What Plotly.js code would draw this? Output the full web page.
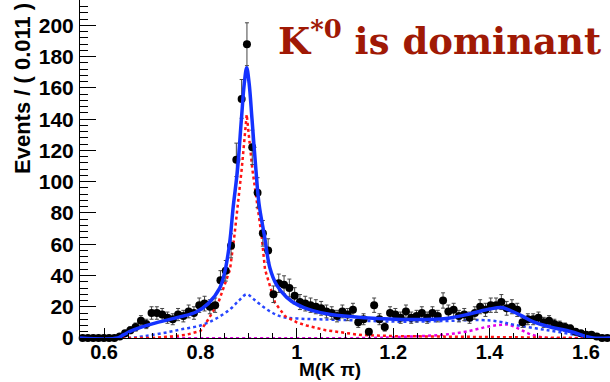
<!DOCTYPE html>
<html>
<head>
<meta charset="utf-8">
<script src="https://cdn.plot.ly/plotly-3.0.1.min.js"></script>
<style>html,body{margin:0;padding:0;background:#fff;}#chart{width:610px;height:382px;}</style>
</head>
<body>
<div id="chart"></div>
<script>
// Histogram binning (100 bins of 0.011 GeV from 0.55)
const binStart = 0.55;
const binWidth = 0.011;

// Event counts per bin
const counts = [0,0,0,0,0,0,0,1,3,5, 7,11,9,16,16,15,13,12,15,14,
  17,16,21,22,20,21,37,43,59,114, 153,188,122,93,67,56,28,35,34,32,
  27,23,22,21,20,19,17,16,14,17, 15,18,10,12,4,21,12,7,16,15,
  13,17,13,14,16,13,16,14,24,17, 18,14,15,13,16,20,18,21,21,23,
  19,20,18,10,12,12,13,10,11,9, 8,7,6,4,3,2,2,1,0,0];

// Statistical errors per bin
const errors = [0,0,0,0,0,0,0,1,1.7,2.2, 2.6,3.3,3,4,4,3.9,3.6,3.5,3.9,3.7,
  4.1,4,4.6,4.7,4.5,4.6,6.1,6.6,7.7,10.7, 12.4,13.7,11,9.6,8.2,7.5,5.3,5.9,5.8,5.7,
  5.2,4.8,4.7,4.6,4.5,4.4,4.1,4,3.7,4.1, 3.9,4.2,3.2,3.5,2,4.6,3.5,2.6,4,3.9,
  3.6,4.1,3.6,3.7,4,3.6,4,3.7,4.9,4.1, 4.2,3.7,3.9,3.6,4,4.5,4.2,4.6,4.6,4.8,
  4.4,4.5,4.2,3.2,3.5,3.5,3.6,3.2,3.3,3, 2.8,2.6,2.4,2,1.7,1.4,1.4,1,0,0];

// Total fit (blue solid)
const totalX = [0.55,0.628,0.64,0.66,0.70,0.757,0.79,0.816,0.84,0.851,0.861,0.868,0.877,0.885,0.891,0.896,0.901,0.907,0.915,0.9215,0.933,0.944,0.958,0.979,1.0,1.033,1.07,1.14,1.24,1.31,1.36,1.40,1.425,1.44,1.465,1.49,1.52,1.57,1.60,1.615,1.65];
const totalY = [0,0,2,5,9,13.5,16.5,22,32,43,62,84,108,140,163,173,163,140,108,86,65,45,34,26,21.5,17.5,15,13,11.8,12.5,15.5,18.5,19.5,18,14.5,10.5,7.5,4,1,0,0];

// K*0 component (red dotted)
const kstX = [0.55,0.70,0.74,0.77,0.80,0.816,0.837,0.8613,0.8703,0.8856,0.896,0.9077,0.9271,0.934,0.9548,0.9755,1.0,1.02,1.06,1.1,1.13,1.2,1.3,1.45,1.55,1.6,1.65];
const kstY = [0,0,1,2,4.5,11.8,22.5,43.8,65,108,143,108,65,43.8,22.5,14,10,8,5,3.5,2,1.2,0.8,0.5,0.2,0,0];

// Broad component (blue dotted)
const broadX = [0.55,0.65,0.68,0.72,0.76,0.80,0.83,0.86,0.88,0.896,0.91,0.93,0.95,0.97,1.0,1.1,1.2,1.3,1.38,1.42,1.45,1.52,1.59,1.62,1.65];
const broadY = [0,0,1,3,5.5,8,12,18,24,28,25,20,16,13.5,12.5,11.5,10.5,10.8,11.5,10.5,8.5,5,1.5,0,0];

// K2*(1430) component (magenta dotted)
const k2X = [0.55,1.15,1.2,1.3,1.35,1.4,1.425,1.44,1.46,1.48,1.5,1.52,1.65];
const k2Y = [0,0,0.5,2,4,7.5,8.5,8.5,6,3,1,0,0];

const binCenters = counts.map((_, i) => binStart + binWidth * (i + 0.5));

const traces = [
  {x: k2X, y: k2Y, type: 'scatter', mode: 'lines', cliponaxis: false, line: {color: 'rgb(230,0,230)', width: 2.5, dash: 'dot', shape: 'spline'}, hoverinfo: 'skip'},
  {x: broadX, y: broadY, type: 'scatter', mode: 'lines', line: {color: 'rgb(40,70,255)', width: 2.5, dash: 'dot', shape: 'spline'}, hoverinfo: 'skip'},
  {x: kstX, y: kstY, type: 'scatter', mode: 'lines', line: {color: 'rgb(255,20,20)', width: 2.5, dash: 'dot', shape: 'linear'}, hoverinfo: 'skip'},
  {x: binCenters, y: counts, type: 'scatter', mode: 'markers', cliponaxis: false,
   marker: {color: 'black', size: 8},
   error_y: {type: 'data', array: errors, visible: true, color: '#444', thickness: 1, width: 2},
   error_x: {type: 'constant', value: binWidth / 2, visible: true, color: '#222', thickness: 1, width: 0}},
  {x: totalX, y: totalY, type: 'scatter', mode: 'lines', line: {color: 'rgb(20,50,255)', width: 3.5, shape: 'spline'}, hoverinfo: 'skip'}
];

const xFont = {family: 'Liberation Sans, Arial, sans-serif', size: 20, color: '#000', weight: 'bold'};
const yFont = {family: 'Liberation Sans, Arial, sans-serif', size: 21, color: '#000', weight: 'bold'};

const layout = {
  width: 610, height: 382,
  margin: {l: 80, r: 0, t: 0, b: 44},
  paper_bgcolor: '#fff', plot_bgcolor: '#fff',
  showlegend: false,
  xaxis: {
    range: [0.55, 1.65], showgrid: false, zeroline: false,
    showline: true, linecolor: '#000', linewidth: 1, mirror: false,
    ticks: 'inside', ticklen: 10, tickcolor: '#000', tickwidth: 1,
    tickvals: [0.6, 0.8, 1.0, 1.2, 1.4, 1.6], ticktext: ['0.6', '0.8', '1', '1.2', '1.4', '1.6'],
    minor: {ticks: 'inside', dtick: 0.05, tick0: 0.6, ticklen: 5, tickcolor: '#000'},
    tickfont: xFont, ticklabelstandoff: -4
  },
  yaxis: {
    range: [0, 216.3], showgrid: false, zeroline: false,
    showline: true, linecolor: '#000', linewidth: 1,
    ticks: 'inside', ticklen: 16, tickcolor: '#000', tickwidth: 1,
    tickvals: [0, 20, 40, 60, 80, 100, 120, 140, 160, 180, 200],
    minor: {ticks: 'inside', dtick: 4, tick0: 0, ticklen: 8, tickcolor: '#000'},
    tickfont: yFont, ticklabelstandoff: 1
  },
  annotations: [
    {text: '<b>K<sup>*0</sup> is dominant</b>', xref: 'paper', yref: 'paper', x: 0, xshift: 196, y: 1, yshift: -38,
     xanchor: 'left', yanchor: 'middle', showarrow: false,
     font: {family: 'DejaVu Serif, serif', size: 37, color: 'rgb(160,25,5)'}},
    {text: '<b>Events / ( 0.011 )</b>', xref: 'paper', yref: 'paper', x: 0, xshift: -58, y: 1, yshift: -89,
     xanchor: 'center', yanchor: 'middle', textangle: -90, showarrow: false,
     font: {family: 'Liberation Sans, Arial, sans-serif', size: 22, color: '#000'}},
    {text: '<b>M(K π)</b>', xref: 'paper', yref: 'paper', x: 0, xshift: 250, y: 0, yshift: -31,
     xanchor: 'center', yanchor: 'middle', showarrow: false,
     font: {family: 'Liberation Sans, Arial, sans-serif', size: 19, color: '#000'}}
  ]
};

Plotly.newPlot('chart', traces, layout, {staticPlot: true, displayModeBar: false});
</script>
</body>
</html>
